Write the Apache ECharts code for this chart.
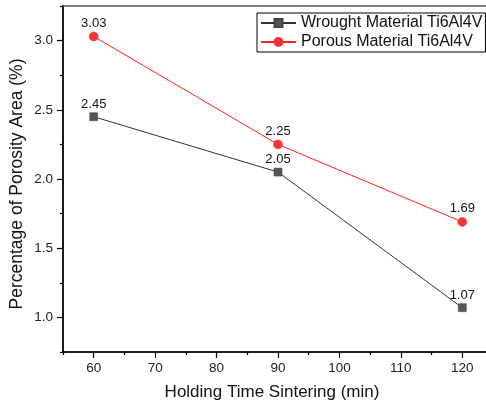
<!DOCTYPE html>
<html>
<head>
<meta charset="utf-8">
<script src="https://cdn.jsdelivr.net/npm/echarts@6/dist/echarts.min.js"></script>
<style>
html,body{margin:0;padding:0;background:#fff;}
#chart{width:486px;height:409px;}
</style>
</head>
<body>
<div id="chart"></div>
<script>
const categories = [60, 90, 120];
const wroughtValues = [2.45, 2.05, 1.07];
const porousValues = [3.03, 2.25, 1.69];
const seriesNames = ['Wrought Material Ti6Al4V', 'Porous Material Ti6Al4V'];
const xTickLabels = [60, 70, 80, 90, 100, 110, 120];
const xMinorTicks = [55, 65, 75, 85, 95, 105, 115, 125];
const yTickLabels = [1.0, 1.5, 2.0, 2.5, 3.0];
const yMinorTicks = [0.75, 1.25, 1.75, 2.25, 2.75, 3.25];
const xTitle = 'Holding Time Sintering (min)';
const yTitle = 'Percentage of Porosity Area (%)';

const chart = echarts.init(document.getElementById('chart'), null, {renderer: 'canvas'});
const font = 'Liberation Sans, Arial, sans-serif';
const axisColor = '#000';

function pairs(vals) { return categories.map((c, i) => [c, vals[i]]); }

const option = {
  backgroundColor: '#fff',
  animation: false,
  textStyle: {fontFamily: font},
  grid: {left: 63, top: 6, right: -7, bottom: 57, show: true, borderColor: '#000', borderWidth: 1.2, outerBoundsMode: 'none', containLabel: false},
  xAxis: [{
    type: 'value', min: 55, max: 125, interval: 5,
    axisLine: {show: true, lineStyle: {color: axisColor, width: 1.5}},
    axisTick: {show: true, customValues: xTickLabels, length: 6, inside: false, lineStyle: {color: axisColor, width: 1.2}},
    axisLabel: {customValues: xTickLabels, fontSize: 13.5, color: '#222', margin: 9, fontFamily: font},
    splitLine: {show: false}
  }, {
    type: 'value', min: 55, max: 125, interval: 5, position: 'bottom',
    axisLine: {show: false},
    axisTick: {show: true, customValues: xMinorTicks, length: 3, lineStyle: {color: axisColor, width: 1.2}},
    axisLabel: {show: false},
    splitLine: {show: false}
  }],
  yAxis: [{
    type: 'value', min: 0.75, max: 3.25, interval: 0.25,
    axisLine: {show: true, lineStyle: {color: axisColor, width: 1.5}},
    axisTick: {show: true, customValues: yTickLabels, length: 6, lineStyle: {color: axisColor, width: 1.2}},
    axisLabel: {customValues: yTickLabels, fontSize: 13.5, color: '#222', margin: 10, fontFamily: font,
      formatter: v => v.toFixed(1)},
    splitLine: {show: false}
  }, {
    type: 'value', min: 0.75, max: 3.25, interval: 0.25, position: 'left',
    axisLine: {show: false},
    axisTick: {show: true, customValues: yMinorTicks, length: 3, lineStyle: {color: axisColor, width: 1.2}},
    axisLabel: {show: false},
    splitLine: {show: false}
  }],
  legend: {
    orient: 'vertical', left: 257, top: 13,
    data: seriesNames,
    borderColor: '#000', borderWidth: 1, borderRadius: 0,
    backgroundColor: '#fff',
    padding: [2, 3, 2, 3], itemGap: 3,
    itemWidth: 35, itemHeight: 10,
    textStyle: {fontSize: 16, color: '#111', fontFamily: font, padding: [0, 0, 0, 0]}
  },
  graphic: [
    {type: 'text', x: 272, y: 392, style: {text: xTitle, fontSize: 17, fill: '#111', fontFamily: font, textAlign: 'center', textVerticalAlign: 'middle'}},
    {type: 'text', x: 17, y: 184, rotation: Math.PI / 2, style: {text: yTitle, fontSize: 17.5, fill: '#111', fontFamily: font, textAlign: 'center', textVerticalAlign: 'middle'}}
  ],
  series: [{
    name: seriesNames[0], type: 'line', data: pairs(wroughtValues),
    symbol: 'rect', symbolSize: 8,
    lineStyle: {color: '#333', width: 1},
    itemStyle: {color: '#555', borderColor: '#444', borderWidth: 0.5},
    label: {show: true, position: 'top', distance: 2, fontSize: 13, color: '#111', fontFamily: font, formatter: p => p.value[1].toFixed(2)}
  }, {
    name: seriesNames[1], type: 'line', data: pairs(porousValues),
    symbol: 'circle', symbolSize: 9,
    lineStyle: {color: '#ff2020', width: 1},
    itemStyle: {color: '#f03535', borderColor: '#f03535', borderWidth: 0.5},
    label: {show: true, position: 'top', distance: 2, fontSize: 13, color: '#111', fontFamily: font, formatter: p => p.value[1].toFixed(2)}
  }]
};
chart.setOption(option);
</script>
</body>
</html>
